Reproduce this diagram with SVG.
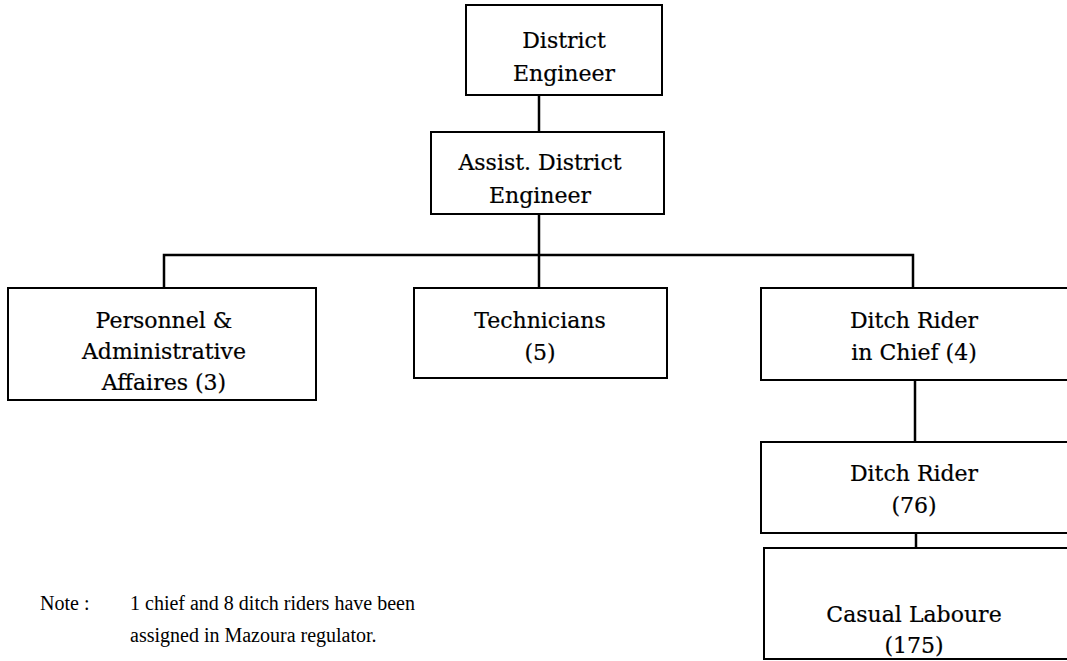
<svg xmlns="http://www.w3.org/2000/svg" width="1067" height="661" viewBox="0 0 1067 661">
<style>
.box{fill:#fff;stroke:#000;stroke-width:2}
.t{font-family:"DejaVu Serif","Liberation Serif",serif;font-size:22px;fill:#000;stroke:#000;stroke-width:0.2;text-anchor:middle}
.n{font-family:"Liberation Serif",serif;font-size:20px;fill:#000}
.c{stroke:#000;stroke-width:2.5;fill:none}
</style>
<rect width="1067" height="661" fill="#fff"/>
<g id="connectors">
<line class="c" x1="539" y1="95" x2="539" y2="132"/>
<line class="c" x1="539" y1="214" x2="539" y2="288"/>
<polyline class="c" points="164,288 164,255 913,255 913,288"/>
<line class="c" x1="915" y1="380" x2="915" y2="442"/>
<line class="c" x1="916" y1="533" x2="916" y2="548"/>
</g>
<g id="district-engineer">
<rect class="box" x="466" y="5" width="196" height="90"/>
<text class="t" x="564" y="48">District</text>
<text class="t" x="564" y="81">Engineer</text>
</g>
<g id="assist-district-engineer">
<rect class="box" x="431" y="132" width="233" height="82"/>
<text class="t" x="540" y="170">Assist. District</text>
<text class="t" x="540" y="203">Engineer</text>
</g>
<g id="personnel">
<rect class="box" x="8" y="288" width="308" height="112"/>
<text class="t" x="164" y="328">Personnel &amp;</text>
<text class="t" x="164" y="359">Administrative</text>
<text class="t" x="164" y="390">Affaires (3)</text>
</g>
<g id="technicians">
<rect class="box" x="414" y="288" width="253" height="90"/>
<text class="t" x="540" y="328">Technicians</text>
<text class="t" x="540" y="360">(5)</text>
</g>
<g id="ditch-rider-chief">
<rect class="box" x="761" y="288" width="310" height="92"/>
<text class="t" x="914" y="328">Ditch Rider</text>
<text class="t" x="914" y="360">in Chief (4)</text>
</g>
<g id="ditch-rider">
<rect class="box" x="761" y="442" width="310" height="91"/>
<text class="t" x="914" y="481">Ditch Rider</text>
<text class="t" x="914" y="513">(76)</text>
</g>
<g id="casual-laboure">
<rect class="box" x="764" y="548" width="307" height="111"/>
<text class="t" x="914" y="622">Casual Laboure</text>
<text class="t" x="914" y="653">(175)</text>
</g>
<g id="note">
<text class="n" x="40" y="610">Note :</text>
<text class="n" x="130" y="610">1 chief and 8 ditch riders have been</text>
<text class="n" x="130" y="642">assigned in Mazoura regulator.</text>
</g>
</svg>
